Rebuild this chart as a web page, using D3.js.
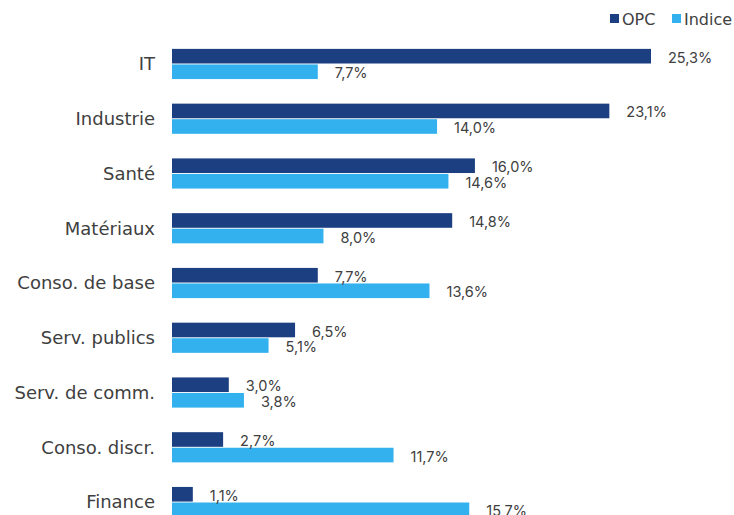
<!DOCTYPE html>
<html>
<head>
<meta charset="utf-8">
<script src="https://cdn.jsdelivr.net/npm/d3@7"></script>
<style>
  body { margin: 0; background: #fff; }
  svg { display: block; font-family: "Inter", "Noto Sans", sans-serif; }
</style>
</head>
<body>
<svg id="chart"></svg>
<script>
const categories = ["IT", "Industrie", "Santé", "Matériaux", "Conso. de base", "Serv. publics", "Serv. de comm.", "Conso. discr.", "Finance"];
const series = ["OPC", "Indice"];
const opcValues = [25.3, 23.1, 16.0, 14.8, 7.7, 6.5, 3.0, 2.7, 1.1];
const indiceValues = [7.7, 14.0, 14.6, 8.0, 13.6, 5.1, 3.8, 11.7, 15.7];
const colors = ["#1b3f80", "#33b1ee"];

const width = 734;
const height = 515;

const svg = d3.select("#chart")
    .attr("width", width)
    .attr("height", height);

const rows = categories.map((c, i) => ({
    name: c,
    values: [
        { key: "OPC", value: opcValues[i] },
        { key: "Indice", value: indiceValues[i] }
    ]
}));

// scales
const x = d3.scaleLinear().domain([0, 25.3]).range([172, 651]);
const y = d3.scaleBand()
    .domain(categories)
    .range([37, 529])
    .paddingInner(0.415)
    .paddingOuter(0.2);
const yInner = d3.scaleBand()
    .domain(series)
    .range([0, y.bandwidth()])
    .padding(0.06);
const color = d3.scaleOrdinal().domain(series).range(colors);

const fmt = v => d3.format(".1f")(v).replace(".", ",") + "%";

// category labels
svg.append("g")
    .selectAll("text")
    .data(categories)
    .enter()
    .append("text")
    .attr("x", 155)
    .attr("y", d => y(d) + y.bandwidth() / 2)
    .attr("dy", "0.35em")
    .attr("text-anchor", "end")
    .attr("font-family", "DejaVu Sans")
    .attr("font-size", 18)
    .attr("fill", "#404040")
    .text(d => d);

// bars
const groups = svg.append("g")
    .selectAll("g")
    .data(rows)
    .enter()
    .append("g")
    .attr("transform", d => `translate(0,${y(d.name)})`);

groups.selectAll("rect")
    .data(d => d.values)
    .enter()
    .append("rect")
    .attr("x", x(0))
    .attr("y", d => yInner(d.key))
    .attr("width", d => x(d.value) - x(0))
    .attr("height", yInner.bandwidth())
    .attr("fill", d => color(d.key));

groups.selectAll("text")
    .data(d => d.values)
    .enter()
    .append("text")
    .attr("x", d => x(d.value) + 17)
    .attr("y", d => yInner(d.key) + yInner.bandwidth() / 2)
    .attr("dy", "0.45em")
    .attr("font-size", 14.5)
    .attr("fill", "#404040")
    .text(d => fmt(d.value));

// legend
const legend = svg.append("g");
const legendX = [610, 672];
series.forEach((s, i) => {
    legend.append("rect")
        .attr("x", legendX[i])
        .attr("y", 14)
        .attr("width", 9)
        .attr("height", 9)
        .attr("fill", color(s));
    legend.append("text")
        .attr("x", legendX[i] + 12)
        .attr("y", 19)
        .attr("dy", "0.35em")
        .attr("font-family", "DejaVu Sans")
        .attr("font-size", 16)
        .attr("fill", "#404040")
        .text(s);
});
</script>
</body>
</html>
